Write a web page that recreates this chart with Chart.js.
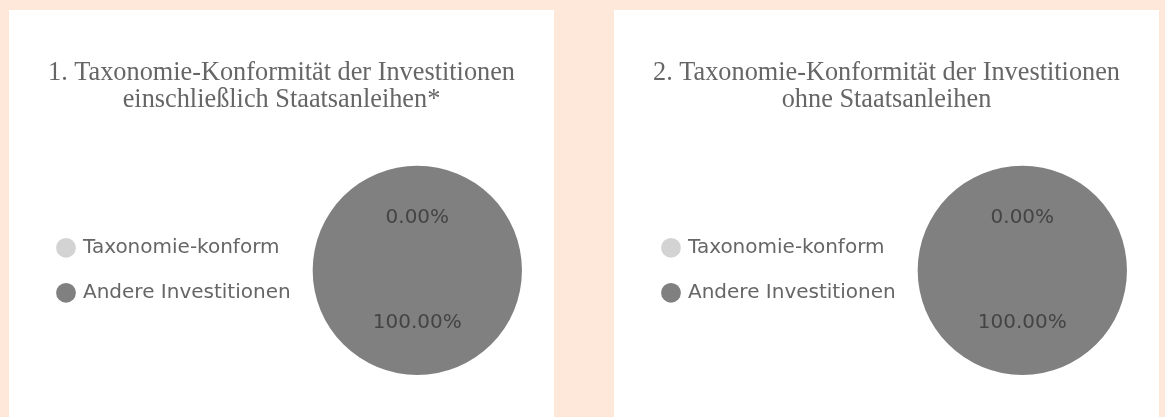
<!DOCTYPE html>
<html>
<head>
<meta charset="utf-8">
<script src="https://cdn.jsdelivr.net/npm/chart.js@4/dist/chart.umd.min.js"></script>
<style>
    html, body { margin: 0; padding: 0; }
    body { width: 1165px; height: 417px; background: #fde8d9; position: relative; overflow: hidden; }
    .panel { position: absolute; top: 10px; width: 545px; height: 407px; background: #fff; }
    #panel1 { left: 9px; }
    #panel2 { left: 614px; }
</style>
</head>
<body>
<div class="panel" id="panel1"><canvas id="chart1" width="545" height="407"></canvas></div>
<div class="panel" id="panel2"><canvas id="chart2" width="545" height="407"></canvas></div>
<script>
// Chart data
const categories = ['Taxonomie-konform', 'Andere Investitionen'];
const inclBonds = [0, 100];
const exclBonds = [0, 100];
const colors = ['#d3d3d3', '#808080'];
const titles1 = ['1. Taxonomie-Konformität der Investitionen', 'einschließlich Staatsanleihen*'];
const titles2 = ['2. Taxonomie-Konformität der Investitionen', 'ohne Staatsanleihen'];

// Percent labels in the middle of each slice
const sliceLabels = {
    id: 'sliceLabels',
    afterDatasetsDraw(chart) {
        const ctx = chart.ctx;
        const meta = chart.getDatasetMeta(0);
        const values = chart.data.datasets[0].data;
        const total = values.reduce((a, b) => a + b, 0);
        ctx.save();
        ctx.font = '20px "DejaVu Sans"';
        ctx.fillStyle = '#444';
        ctx.textAlign = 'center';
        ctx.textBaseline = 'middle';
        meta.data.forEach((arc, i) => {
            const pos = arc.tooltipPosition();
            const pct = total ? values[i] / total * 100 : 0;
            ctx.fillText(pct.toFixed(2) + '%', pos.x, pos.y);
        });
        ctx.restore();
    }
};

// Center the title over the whole panel, not just inside the layout padding
const titleFullWidth = {
    id: 'titleFullWidth',
    afterLayout(chart) {
        const t = chart.titleBlock;
        if (!t) return;
        t.left = 0;
        t.right = chart.width;
        t.width = chart.width;
    }
};

function makeChart(id, values, title) {
    return new Chart(document.getElementById(id), {
        type: 'pie',
        data: {
            labels: categories,
            datasets: [{
                data: values,
                backgroundColor: colors,
                borderWidth: 0
            }]
        },
        options: {
            responsive: false,
            devicePixelRatio: 1,
            animation: false,
            layout: {
                padding: { left: 25, right: 20, top: 0, bottom: 42 }
            },
            plugins: {
                title: {
                    display: true,
                    text: title,
                    color: '#666',
                    font: { family: '"Liberation Serif", "Times New Roman", serif', size: 26.3, weight: 'normal', lineHeight: 1.04 },
                    padding: { top: 49, bottom: 52 }
                },
                legend: {
                    position: 'left',
                    fullSize: false,
                    maxWidth: 275,
                    labels: {
                        usePointStyle: true,
                        pointStyle: 'circle',
                        boxWidth: 14,
                        boxHeight: 14,
                        padding: 25,
                        color: '#666',
                        font: { family: '"DejaVu Sans"', size: 20 }
                    }
                },
                tooltip: { enabled: false }
            }
        },
        plugins: [sliceLabels, titleFullWidth]
    });
}

makeChart('chart1', inclBonds, titles1);
makeChart('chart2', exclBonds, titles2);
</script>
</body>
</html>
